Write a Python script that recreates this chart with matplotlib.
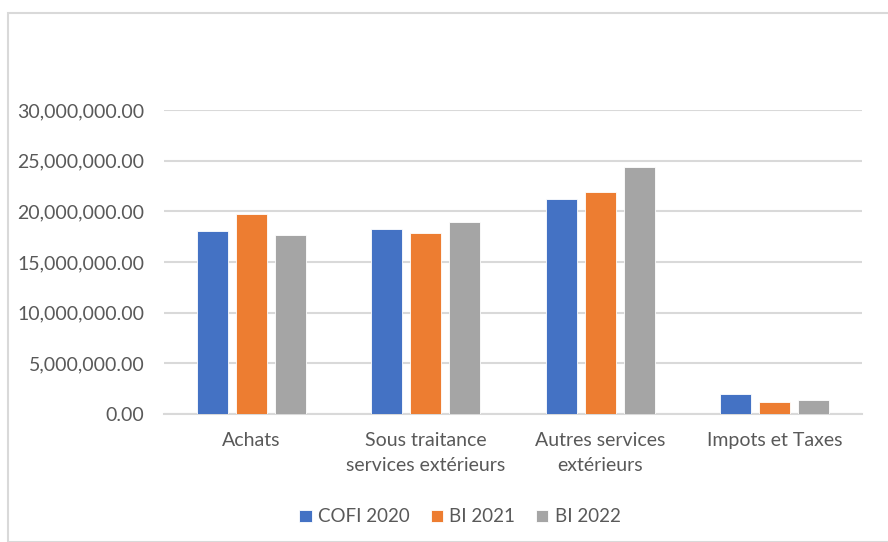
import matplotlib
matplotlib.use("Agg")
import matplotlib.pyplot as plt
from matplotlib.patches import Rectangle
import numpy as np

categories = ["Achats", "Sous traitance\nservices extérieurs", "Autres services\nextérieurs", "Impots et Taxes"]
series_names = ["COFI 2020", "BI 2021", "BI 2022"]
cofi_2020 = [18.05e6, 18.3e6, 21.2e6, 1.95e6]
bi_2021 = [19.75e6, 17.85e6, 21.9e6, 1.15e6]
bi_2022 = [17.7e6, 18.97e6, 24.38e6, 1.38e6]
y_ticks = [0, 5e6, 10e6, 15e6, 20e6, 25e6, 30e6]
colors = ["#4472C4", "#ED7D31", "#A5A5A5"]

plt.rcParams['font.family'] = ['Lato', 'DejaVu Sans']

fig = plt.figure(figsize=(8.88, 5.42), dpi=100)
W, H = 888, 542
# chart-area border
fig.patches.append(Rectangle((8 / W, 0), 1.0, 1 - 13 / H, transform=fig.transFigure,
                             fill=False, edgecolor="#d9d9d9", linewidth=1.5))
ax = fig.add_axes([164 / W, 1 - 414 / H, (862 - 164) / W, (414 - 110) / H])

x = np.arange(len(categories))
offset = 0.2235
width = 0.178
for i, (vals, name) in enumerate(zip([cofi_2020, bi_2021, bi_2022], series_names)):
    ax.bar(x + (i - 1) * offset, vals, width, color=colors[i], label=name,
           edgecolor="white", linewidth=0.6, zorder=3)

ax.set_xlim(-0.5, len(categories) - 0.5)
ax.set_ylim(0, 30e6)
ax.set_yticks(y_ticks)
ax.set_yticklabels([f"{v:,.2f}" for v in y_ticks])
ax.yaxis.grid(True, color="#d9d9d9", linewidth=1.5, zorder=0)
ax.set_axisbelow(True)
for s in ["top", "right", "left"]:
    ax.spines[s].set_visible(False)
ax.spines["bottom"].set_color("#d9d9d9")
ax.spines["bottom"].set_linewidth(1.5)
ax.tick_params(axis="both", length=0, labelsize=14, labelcolor="#595959")
ax.tick_params(axis="y", pad=14)
ax.tick_params(axis="x", pad=13)
ax.set_xticks(x)
ax.set_xticklabels(categories, linespacing=1.55)

leg = fig.legend(loc="center", bbox_to_anchor=(460 / W, 1 - 517 / H), ncol=3, frameon=False,
                 fontsize=13.5, handlelength=0.65, handleheight=0.65, handletextpad=0.35,
                 columnspacing=1.1, labelcolor="#595959")

fig.savefig("out.png", dpi=100)
